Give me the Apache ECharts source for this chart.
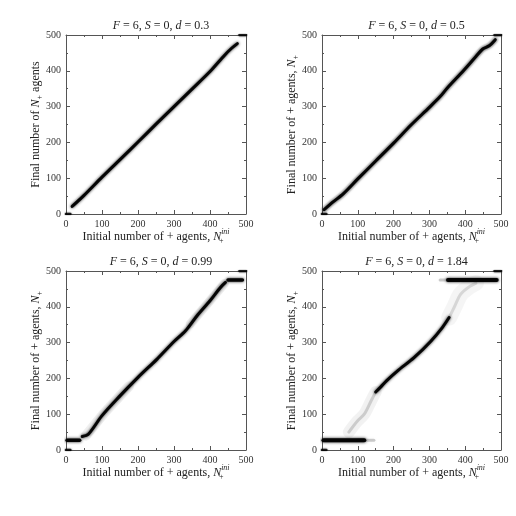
<!DOCTYPE html>
<html lang="en">
<head>
<meta charset="UTF-8">
<title>Final vs initial number of + agents</title>
<script src="https://cdn.jsdelivr.net/npm/echarts@6/dist/echarts.min.js"></script>
<style>
    * { margin: 0; padding: 0; }
    html, body { width: 100%; height: 100%; overflow: hidden; background: #fff; }
    .box { width: 516px; height: 516px; }
</style>
</head>
<body>
<div class="box"></div>
<script>
    // panel titles: F, S, d
    const panelParams = [['6', '0', '0.3'], ['6', '0', '0.5'], ['6', '0', '0.99'], ['6', '0', '1.84']];
    const tickValues = [0, 100, 200, 300, 400, 500];

    // d = 0.3
    const d03Line = [[17, 21], [50, 52], [100, 103], [150, 152], [200, 201], [250, 251], [300, 300], [350, 349], [400, 398], [440, 443], [460, 463], [476, 476]];
    // d = 0.5
    const d05Line = [[6, 12], [30, 33], [60, 57], [100, 98], [150, 148], [200, 198], [250, 250], [300, 298], [330, 328], [350, 352], [395, 400], [430, 440], [449, 461], [467, 470], [484, 487]];
    // d = 0.99
    const d099Low = [[3, 27], [38, 27]];
    const d099Line = [[45, 38], [62, 44], [100, 96], [146, 147], [200, 203], [253, 254], [300, 303], [332, 333], [364, 375], [400, 417], [429, 454], [443, 468]];
    const d099HaloLow = [[55, 40], [100, 96], [146, 147], [175, 178]];
    const d099HaloHigh = [[345, 352], [400, 417], [440, 465]];
    const d099High = [[450, 475], [490, 475]];
    // d = 1.84
    const d184Low = [[4, 27], [118, 27]];
    const d184LowTail = [[100, 27], [145, 27]];
    const d184Line = [[150, 162], [165, 177], [180, 193], [211, 221], [257, 258], [304, 304], [336, 342], [355, 370]];
    const d184FaintLow = [[75, 50], [99, 81], [118, 100], [137, 137], [150, 162]];
    const d184FaintHigh = [[355, 370], [369, 398], [387, 435], [410, 455], [430, 466]];
    const d184HighHead = [[330, 475], [360, 475]];
    const d184High = [[352, 475], [488, 475]];
    // absorbing corners, same in every panel
    const cornerLow = [[0, 0], [12, 0]];
    const cornerHigh = [[482, 500], [500, 500]];

    const serif = 'Liberation Serif';
    const grids = [
        {left: 66, top: 35, width: 180, height: 179},
        {left: 322, top: 35, width: 179, height: 179},
        {left: 66, top: 271, width: 180, height: 179},
        {left: 322, top: 271, width: 179, height: 179}
    ];

    let rich = {
        i: {fontFamily: serif, fontStyle: 'italic', fontWeight: 'normal', fontSize: 12, color: '#222'},
        t: {fontFamily: serif, fontWeight: 'normal', fontSize: 12, color: '#222'},
        sub: {fontFamily: serif, fontSize: 8, verticalAlign: 'bottom', lineHeight: 17, color: '#222'},
        sub0: {fontFamily: serif, fontSize: 8, verticalAlign: 'bottom', lineHeight: 17, width: 0, color: '#222'},
        sup: {fontFamily: serif, fontStyle: 'italic', fontSize: 8, verticalAlign: 'top', lineHeight: 17, color: '#222'}
    };

    let axisCommon = {
        type: 'value', min: 0, max: 500, interval: 100,
        axisLine: {show: true, onZero: false, lineStyle: {color: '#555', width: 1}},
        axisTick: {show: true, inside: true, length: 4, lineStyle: {color: '#555'}},
        minorTick: {show: true, splitNumber: 2, length: 2, lineStyle: {color: '#555'}},
        splitLine: {show: false}
    };

    let xAxis = [], yAxis = [], title = [];
    grids.forEach((g, k) => {
        xAxis.push(Object.assign({}, axisCommon, {
            gridIndex: k, position: 'bottom',
            axisLabel: {fontFamily: serif, fontSize: 10, color: '#333', margin: 5},
            name: '{t|Initial number of + agents, }{i|N}{sub0|+}{sup|ini}',
            nameLocation: 'middle', nameGap: 14, nameMoveOverlap: false,
            nameTextStyle: {rich}
        }));
        xAxis.push(Object.assign({}, axisCommon, {
            gridIndex: k, position: 'top', axisLabel: {show: false}
        }));
        yAxis.push(Object.assign({}, axisCommon, {
            gridIndex: k, position: 'left',
            axisLabel: {fontFamily: serif, fontSize: 10, color: '#333', margin: 5},
            name: k == 0 ? '{t|Final number of }{i|N}{sub|+}{t| agents}' : '{t|Final number of + agents, }{i|N}{sub|+}',
            nameLocation: 'middle', nameGap: 22, nameMoveOverlap: false,
            nameTextStyle: {rich}
        }));
        yAxis.push(Object.assign({}, axisCommon, {
            gridIndex: k, position: 'right', axisLabel: {show: false}
        }));
        let p = panelParams[k];
        title.push({
            text: `{i|F}{t| = ${p[0]}, }{i|S}{t| = ${p[1]}, }{i|d}{t| = ${p[2]}}`,
            left: g.left + g.width / 2, top: g.top - 20, textAlign: 'center',
            textStyle: {fontWeight: 'normal', rich}
        });
    });

    let series = [];
    function band(k, data, width, color, blur, z) {
        series.push({
            type: 'line', xAxisIndex: 2 * k, yAxisIndex: 2 * k,
            data, symbol: 'none', smooth: 0.3, z: z || 2,
            lineStyle: {width, color, cap: 'round', join: 'round', shadowBlur: blur, shadowColor: color}
        });
    }

    // corners
    [0, 1, 2, 3].forEach(k => {
        band(k, cornerLow, 2.5, 'rgba(0,0,0,0.8)', 2);
        band(k, cornerHigh, 2.5, 'rgba(0,0,0,0.8)', 2);
    });

    band(0, d03Line, 3, 'rgba(0,0,0,0.95)', 3);
    band(1, d05Line, 7, 'rgba(0,0,0,0.05)', 5, 1);
    band(1, d05Line, 3, 'rgba(0,0,0,0.95)', 3);

    band(2, d099HaloLow, 10, 'rgba(0,0,0,0.06)', 8, 1);
    band(2, d099HaloHigh, 9, 'rgba(0,0,0,0.06)', 8, 1);
    band(2, d099Line, 3, 'rgba(0,0,0,0.95)', 3);
    band(2, d099Low, 3.5, 'rgba(0,0,0,0.95)', 3);
    band(2, d099High, 3.5, 'rgba(0,0,0,0.95)', 3);

    band(3, d184FaintLow, 12, 'rgba(0,0,0,0.05)', 10, 1);
    band(3, d184FaintLow, 3, 'rgba(0,0,0,0.15)', 5, 1);
    band(3, d184FaintHigh, 16, 'rgba(0,0,0,0.04)', 10, 1);
    band(3, d184FaintHigh, 3, 'rgba(0,0,0,0.12)', 5, 1);
    band(3, d184Line, 3, 'rgba(0,0,0,0.95)', 3);
    band(3, d184LowTail, 3, 'rgba(0,0,0,0.2)', 4, 1);
    band(3, d184Low, 4, 'rgba(0,0,0,0.95)', 3);
    band(3, d184HighHead, 3, 'rgba(0,0,0,0.2)', 4, 1);
    band(3, d184High, 4, 'rgba(0,0,0,0.95)', 3);

    let chart = echarts.init(document.querySelector('.box'));
    chart.setOption({
        backgroundColor: '#fff',
        animation: false,
        title,
        grid: grids,
        xAxis,
        yAxis,
        series
    });
</script>
</body>
</html>
